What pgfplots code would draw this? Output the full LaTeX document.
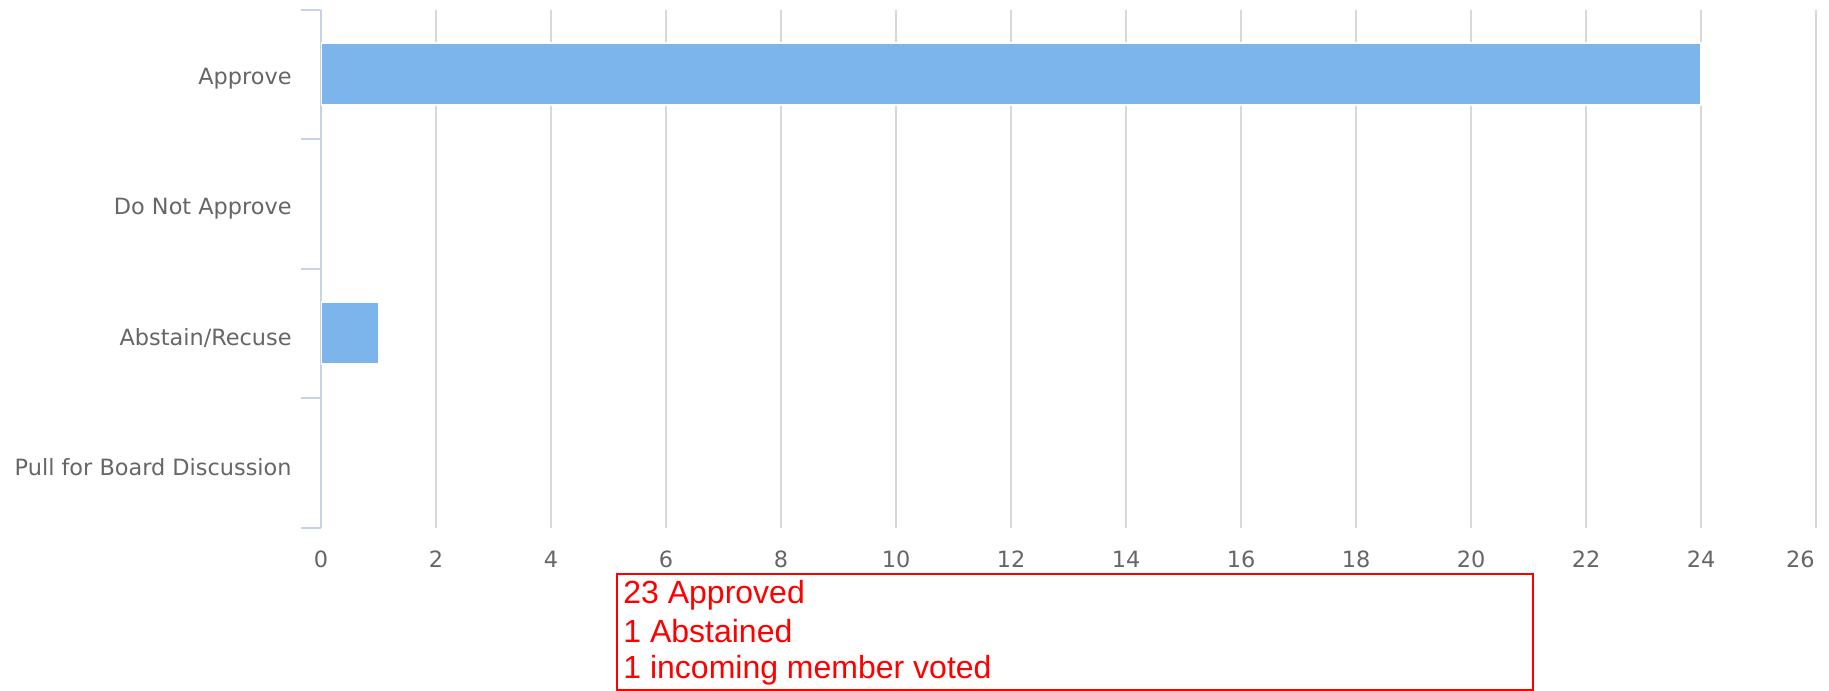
\documentclass[border=0pt]{standalone}
\usepackage{pgfplots}
\pgfplotsset{compat=1.18}
\usepackage{fontspec}
\setmainfont{DejaVu Sans}
\newfontfamily\notefont{Liberation Sans}

\definecolor{barblue}{HTML}{7CB5EC}
\definecolor{gridgray}{HTML}{D8D8D8}
\definecolor{axisblue}{HTML}{C6D3E6}
\definecolor{labelgray}{HTML}{666666}

\begin{document}
\begin{tikzpicture}
% picture is 1829x691 px, 1 px = 0.5bp, origin top left
\path[use as bounding box] (0,0) rectangle (914.5bp,-345.5bp);

\begin{axis}[
	at={(160.5bp,-263.75bp)},
	anchor=south west,
	scale only axis,
	width=747.5bp,
	height=259bp,
	xbar,
	bar width=31bp,
	xmin=0, xmax=26,
	ymin=-0.5, ymax=3.5,
	y dir=reverse,
	axis x line=bottom,
	axis y line=left,
	x axis line style={draw=none},
	y axis line style={-, color=axisblue, line width=1bp},
	xtick={0,2,...,24},
	extra x ticks={26},
	extra x tick style={grid=major, xticklabel style={anchor=north east, xshift=-0.5bp}},
	ytick={0,1,2,3},
	yticklabels={Approve, Do Not Approve, Abstain/Recuse, Pull for Board Discussion},
	minor ytick={-0.5,0.5,1.5,2.5,3.5},
	major tick length=0pt,
	minor tick length=10bp,
	tick align=outside,
	minor y tick style={color=axisblue, line width=1bp},
	major x tick style={draw=none},
	xmajorgrids,
	grid style={color=gridgray, line width=1bp},
	ticklabel style={font=\fontsize{11.2bp}{13bp}\selectfont, color=labelgray},
	xticklabel style={inner sep=0pt, yshift=-11.5bp},
	yticklabel style={inner sep=0pt, xshift=-14.5bp, yshift=-2.2bp},
	/pgf/number format/assume math mode=true,
]
\addplot[fill=barblue, draw=white, line width=1bp] coordinates {
(24,0)
(1,2)
};
\end{axis}

\draw[red, line width=1bp] (308.5bp,-287bp) rectangle (766.5bp,-345bp);
\begin{scope}[every node/.style={anchor=base west, inner sep=0pt, text=red, font=\notefont\fontsize{16bp}{18bp}\selectfont}]
\node at (311.5bp,-301.5bp) {23 Approved};
\node at (311.5bp,-321.25bp) {1 Abstained};
\node at (311.5bp,-339bp) {1 incoming member voted};
\end{scope}
\end{tikzpicture}
\end{document}
